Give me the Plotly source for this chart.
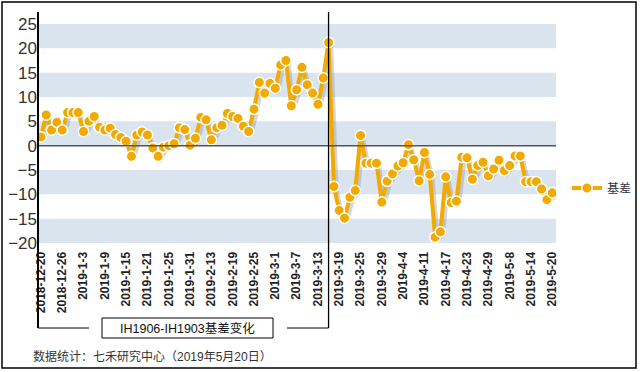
import plotly.graph_objects as go

dates = [
    "2018-12-20", "2018-12-21", "2018-12-24", "2018-12-25", "2018-12-26", "2018-12-27", "2018-12-28",
    "2019-1-2", "2019-1-3", "2019-1-4", "2019-1-7", "2019-1-8", "2019-1-9", "2019-1-10", "2019-1-11",
    "2019-1-14", "2019-1-15", "2019-1-16", "2019-1-17", "2019-1-18", "2019-1-21", "2019-1-22",
    "2019-1-23", "2019-1-24", "2019-1-25", "2019-1-28", "2019-1-29", "2019-1-30", "2019-1-31",
    "2019-2-1", "2019-2-11", "2019-2-12", "2019-2-13", "2019-2-14", "2019-2-15", "2019-2-18",
    "2019-2-19", "2019-2-20", "2019-2-21", "2019-2-22", "2019-2-25", "2019-2-26", "2019-2-27", "2019-2-28",
    "2019-3-1", "2019-3-4", "2019-3-5", "2019-3-6", "2019-3-7", "2019-3-8", "2019-3-11", "2019-3-12",
    "2019-3-13", "2019-3-14", "2019-3-15", "2019-3-18", "2019-3-19", "2019-3-20", "2019-3-21",
    "2019-3-22", "2019-3-25", "2019-3-26", "2019-3-27", "2019-3-28", "2019-3-29",
    "2019-4-1", "2019-4-2", "2019-4-3", "2019-4-4", "2019-4-8", "2019-4-9", "2019-4-10", "2019-4-11",
    "2019-4-12", "2019-4-15", "2019-4-16", "2019-4-17", "2019-4-18", "2019-4-19", "2019-4-22",
    "2019-4-23", "2019-4-24", "2019-4-25", "2019-4-26", "2019-4-29", "2019-4-30",
    "2019-5-6", "2019-5-7", "2019-5-8", "2019-5-9", "2019-5-10", "2019-5-13", "2019-5-14",
    "2019-5-15", "2019-5-16", "2019-5-17", "2019-5-20",
]

basis = [
    1.8, 6.3, 3.2, 4.8, 3.2, 6.8, 6.8, 6.8, 2.9, 5.0,
    6.0, 3.8, 3.2, 3.6, 2.3, 1.7, 0.9, -2.2, 2.2, 2.8,
    2.2, -0.5, -2.2, -0.3, 0.0, 0.4, 3.7, 3.3, 0.1, 1.5,
    5.8, 5.3, 1.2, 3.7, 4.2, 6.6, 6.0, 5.6, 4.0, 2.9,
    7.5, 13.0, 10.8, 12.8, 11.8, 16.6, 17.5, 8.2, 11.5, 16.1,
    12.5, 10.8, 8.5, 13.9, 21.2, -8.4, -13.3, -14.9, -10.6, -9.2,
    2.1, -3.6, -3.6, -3.6, -11.6, -7.3, -5.8, -4.2, -3.5, 0.2,
    -2.9, -7.2, -1.4, -5.9, -18.8, -17.7, -6.4, -11.7, -11.4, -2.4,
    -2.5, -6.9, -4.1, -3.4, -6.2, -4.8, -3.0, -5.1, -4.1, -2.1,
    -2.1, -7.4, -7.4, -7.4, -8.9, -11.1, -9.7,
]

y_ticks = [-20, -15, -10, -5, 0, 5, 10, 15, 20, 25]
switch_date = "2019-3-15"
series_name = "基差"
box_title = "IH1906-IH1903基差变化"
footer = "数据统计：七禾研究中心（2019年5月20日）"

ORANGE = "#F2A900"
BAND = "#D9E4EF"

idx = list(range(len(dates)))
x_range = [-0.55, 96.7]
y_range = [-20, 25]

W, H = 640, 372
ml, mr, mt, mb = 38, 84, 24, 129
pw, ph = W - ml - mr, H - mt - mb


def px2paper_x(px):
    return (px - ml) / pw


def py2paper_y(py):
    return (H - mb - py) / ph


fig = go.Figure()

# shadow
fig.add_trace(go.Scatter(
    x=[i + 0.5 for i in idx], y=[v - 0.6 for v in basis], mode="lines",
    line=dict(color="rgba(150,150,150,0.4)", width=4),
    hoverinfo="skip", showlegend=False,
))
fig.add_trace(go.Scatter(
    x=idx, y=basis, mode="lines+markers", name=series_name,
    line=dict(color=ORANGE, width=4),
    marker=dict(color=ORANGE, size=10.5, line=dict(color="white", width=1.5)),
))

shapes = []
# bands
for k in range(len(y_ticks) - 1):
    lo, hi = y_ticks[k], y_ticks[k + 1]
    if (len(y_ticks) - 2 - k) % 2 == 0:
        shapes.append(dict(type="rect", xref="paper", yref="y", x0=0, x1=1, y0=lo, y1=hi,
                           fillcolor=BAND, line=dict(width=0), layer="below"))

sw = dates.index(switch_date)
sw_paper = (sw - x_range[0]) / (x_range[1] - x_range[0])
y_top = py2paper_y(12)
y_br = py2paper_y(328)

shapes += [
    dict(type="line", xref="paper", yref="y", x0=0, x1=1, y0=0, y1=0,
         line=dict(color="#555555", width=1.5)),
    dict(type="line", xref="paper", yref="paper", x0=0, x1=0, y0=y_br, y1=y_top,
         line=dict(color="black", width=2)),
    dict(type="line", xref="paper", yref="paper", x0=0, x1=px2paper_x(89), y0=y_br, y1=y_br,
         line=dict(color="black", width=1)),
    dict(type="line", xref="paper", yref="paper", x0=px2paper_x(287), x1=sw_paper, y0=y_br, y1=y_br,
         line=dict(color="black", width=1)),
    dict(type="line", xref="paper", yref="paper", x0=sw_paper, x1=sw_paper, y0=y_br, y1=y_top,
         line=dict(color="black", width=1.3)),
    dict(type="rect", xref="paper", yref="paper", x0=px2paper_x(102), x1=px2paper_x(273),
         y0=py2paper_y(338), y1=py2paper_y(318), line=dict(color="black", width=1), fillcolor="white"),
    dict(type="rect", xref="paper", yref="paper", x0=px2paper_x(2), x1=px2paper_x(636),
         y0=py2paper_y(368), y1=py2paper_y(2), line=dict(color="black", width=1.5)),
]

annotations = [
    dict(text=box_title, xref="paper", yref="paper", x=px2paper_x(187.5), y=py2paper_y(328),
         showarrow=False, font=dict(size=12.5, color="#111"), xanchor="center", yanchor="middle"),
    dict(text=footer, xref="paper", yref="paper", x=px2paper_x(31), y=py2paper_y(357),
         showarrow=False, font=dict(size=12, color="#333"), xanchor="left", yanchor="middle"),
]

tick_idx = idx[::4]
fig.update_layout(
    width=W, height=H,
    margin=dict(l=ml, r=mr, t=mt, b=mb, pad=0, autoexpand=False),
    paper_bgcolor="white", plot_bgcolor="white",
    font=dict(family="Liberation Sans, Arial, Noto Sans CJK SC, sans-serif", color="#333"),
    shapes=shapes, annotations=annotations,
    showlegend=True,
    legend=dict(x=px2paper_x(567), y=py2paper_y(188), xanchor="left", yanchor="middle",
                font=dict(size=12, color="#333"), bgcolor="rgba(0,0,0,0)"),
    xaxis=dict(range=x_range, tickvals=tick_idx, ticktext=[dates[i] for i in tick_idx],
               tickangle=-90, tickfont=dict(size=12, color="#222", weight="bold"), showgrid=False,
               zeroline=False, showline=False, ticks="outside", ticklen=3, tickcolor="rgba(0,0,0,0)",
               automargin=False),
    yaxis=dict(range=y_range, tickvals=y_ticks, tickfont=dict(size=17, color="#333"),
               showgrid=False, zeroline=False, showline=False, ticks="", automargin=False),
)

fig.write_html("out.html", config={"displayModeBar": False},
               post_script="document.body.style.margin='0';document.body.style.overflow='hidden';")
